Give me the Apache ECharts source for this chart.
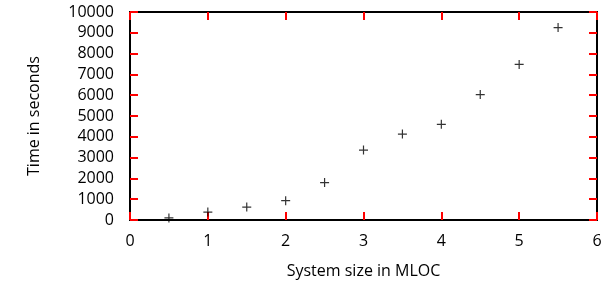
<!DOCTYPE html>
<html>
<head>
<meta charset="utf-8">
<script src="https://cdn.jsdelivr.net/npm/echarts@6/dist/echarts.min.js"></script>
<style>
  html, body { margin: 0; padding: 0; background: #fff; }
  #main { width: 608px; height: 286px; }
</style>
</head>
<body>
<div id="main"></div>
<script>
var sizes = [0.5, 1, 1.5, 2, 2.5, 3, 3.5, 4, 4.5, 5, 5.5];
var times = [100, 380, 620, 930, 1800, 3360, 4130, 4600, 6030, 7480, 9250];

var myChart = echarts.init(document.getElementById('main'));

var font = 'Open Sans';
function tickStyle() { return { show: true, inside: true, length: 8, lineStyle: { color: '#f00', width: 2 } }; }
function lineStyle() { return { show: true, onZero: false, lineStyle: { color: '#000', width: 2 } }; }

function frameX(pos) {
    return { type: 'value', min: 0, max: 6, interval: 1, position: pos,
        axisLine: lineStyle(), axisTick: tickStyle(), splitLine: { show: false }, axisLabel: { show: false } };
}
function frameY(pos) {
    return { type: 'value', min: 0, max: 10000, interval: 1000, position: pos,
        axisLine: lineStyle(), axisTick: tickStyle(), splitLine: { show: false }, axisLabel: { show: false } };
}

option = {
    animation: false,
    grid: { left: 130, right: 11, top: 12, bottom: 66 },
    xAxis: [
        {
            type: 'value', min: 0, max: 6, interval: 1, position: 'bottom',
            name: 'System size in MLOC', nameLocation: 'middle', nameGap: 43,
            nameTextStyle: { fontFamily: font, fontSize: 16, color: '#000' },
            axisLine: lineStyle(), axisTick: { show: false }, splitLine: { show: false },
            axisLabel: { fontFamily: font, fontSize: 16, color: '#000', margin: 13 }
        },
        frameX('top'),
        frameX('bottom')
    ],
    yAxis: [
        {
            type: 'value', min: 0, max: 10000, interval: 1000, position: 'left',
            name: 'Time in seconds', nameLocation: 'middle', nameGap: 88,
            nameTextStyle: { fontFamily: font, fontSize: 16, color: '#000' },
            axisLine: lineStyle(), axisTick: { show: false }, splitLine: { show: false },
            axisLabel: { fontFamily: font, fontSize: 16, color: '#000', margin: 16,
                formatter: function (v) { return String(v); } }
        },
        frameY('right'),
        frameY('left')
    ],
    series: [
        {
            type: 'scatter',
            symbol: 'path://M0,5L10,5M5,0L5,10',
            symbolSize: 9,
            itemStyle: { color: 'none', borderColor: '#000', borderWidth: 1.2 },
            data: sizes.map(function (s, i) { return [s, times[i]]; })
        }
    ]
};

myChart.setOption(option);
</script>
</body>
</html>
